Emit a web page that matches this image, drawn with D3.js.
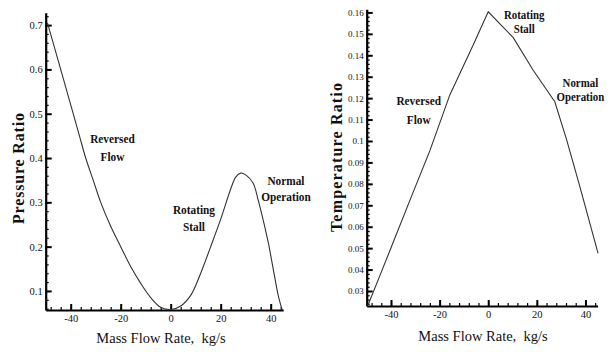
<!DOCTYPE html>
<html>
<head>
<meta charset="utf-8">
<script src="https://cdn.jsdelivr.net/npm/d3@7"></script>
<style>
  html, body { margin: 0; padding: 0; background: #fff; }
  svg { display: block; }
</style>
</head>
<body>
<svg id="chart" width="610" height="352"></svg>
<script>
// Compressor characteristic across the surge cycle: mass flow rate (kg/s)
const flowTicks = [-40, -20, 0, 20, 40];

// Pressure ratio vs mass flow rate
const pressureFlow  = [-49.3, -45, -42, -39, -36.5, -34, -31, -28, -24, -20, -16, -12, -8, -4, 0, 4, 8, 12, 16, 20, 24, 26, 28, 30, 33, 35, 37, 39, 41, 43, 44.6];
const pressureRatio = [0.705, 0.62, 0.56, 0.5, 0.45, 0.4, 0.35, 0.3, 0.246, 0.2, 0.155, 0.117, 0.085, 0.063, 0.058, 0.066, 0.09, 0.14, 0.2, 0.262, 0.33, 0.357, 0.366, 0.362, 0.343, 0.305, 0.26, 0.21, 0.15, 0.09, 0.057];
const pressureTicks = [0.1, 0.2, 0.3, 0.4, 0.5, 0.6, 0.7];

// Temperature ratio vs mass flow rate
const tempFlow  = [-49.6, -45, -40.4, -32.2, -24, -15.8, -6.2, 0, 10.3, 18.5, 27.4, 32.3, 37.7, 45.2];
const tempRatio = [0.023, 0.036, 0.049, 0.0724, 0.0955, 0.1215, 0.1448, 0.1603, 0.1482, 0.133, 0.1183, 0.1004, 0.0787, 0.0476];
const tempTicks = [0.03, 0.04, 0.05, 0.06, 0.07, 0.08, 0.09, 0.1, 0.11, 0.12, 0.13, 0.14, 0.15, 0.16];

// Flow regimes named on both plots
const regimes = [["Reversed", "Flow"], ["Rotating", "Stall"], ["Normal", "Operation"]];

const SERIF = '"Liberation Serif", "Times New Roman", Times, serif';
const svg = d3.select("#chart").attr("font-family", SERIF);

function panel(opt) {
  const g = svg.append("g");
  const x = d3.scaleLinear().domain(opt.xDomain).range(opt.xRange);
  const y = d3.scaleLinear().domain(opt.yDomain).range(opt.yRange);
  const x0 = opt.xRange[0], yb = opt.yRange[0];

  const style = (a, w) => a
    .attr("font-family", SERIF)
    .call(s => s.selectAll("line").attr("stroke-width", w));

  // minor ticks
  g.append("g").attr("transform", `translate(0,${yb})`)
    .call(d3.axisBottom(x).tickValues(opt.xMinor).tickSize(-3).tickSizeOuter(0).tickFormat(""))
    .call(a => a.select(".domain").remove())
    .call(a => style(a, 1.2));
  g.append("g").attr("transform", `translate(${x0},0)`)
    .call(d3.axisLeft(y).tickValues(opt.yMinor).tickSize(-3).tickSizeOuter(0).tickFormat(""))
    .call(a => a.select(".domain").remove())
    .call(a => style(a, 1.2));

  // major ticks + labels
  g.append("g").attr("transform", `translate(0,${yb})`)
    .call(d3.axisBottom(x).tickValues(flowTicks).tickSize(-6).tickSizeOuter(0).tickPadding(5)
      .tickFormat(d => d))
    .call(a => style(a, 2))
    .call(a => a.select(".domain").attr("stroke-width", 2.2))
    .call(a => a.selectAll("text").attr("font-size", 10.5).attr("fill", "#111"));
  g.append("g").attr("transform", `translate(${x0},0)`)
    .call(d3.axisLeft(y).tickValues(opt.yTicks).tickSize(-6).tickSizeOuter(0).tickPadding(3)
      .tickFormat(d => String(d)))
    .call(a => style(a, 2))
    .call(a => a.select(".domain").attr("stroke-width", 2.2))
    .call(a => a.selectAll("text").attr("font-size", opt.yFont).attr("fill", "#111"));

  // curve
  const pts = opt.xs.map((v, i) => [v, opt.ys[i]]);
  g.append("path").datum(pts)
    .attr("fill", "none").attr("stroke", "#333").attr("stroke-width", 1.1)
    .attr("d", d3.line().x(d => x(d[0])).y(d => y(d[1])).curve(opt.curve));

  // regime annotations (anchored in data coordinates)
  regimes.forEach((lines, k) => {
    const [nx, ny, gap, fs] = opt.notePos[k];
    const px = x(nx), py = y(ny);
    const t = g.append("text")
      .attr("transform", `translate(${px},${py}) scale(0.87,1)`)
      .attr("text-anchor", "middle").attr("font-size", fs).attr("font-weight", "bold")
      .attr("font-family", SERIF).attr("fill", "#111");
    lines.forEach((s, i) => t.append("tspan").attr("x", 0).attr("y", i * gap).text(s));
  });

  // axis titles
  g.append("text").attr("text-anchor", "middle").attr("font-size", 14.5)
    .attr("font-family", SERIF).attr("fill", "#111").style("white-space", "pre")
    .attr("x", opt.xTitlePos[0]).attr("y", opt.xTitlePos[1]).text("Mass Flow Rate,  kg/s");
  g.append("text").attr("text-anchor", "middle").attr("font-size", 16).attr("font-weight", "bold")
    .attr("font-family", SERIF).attr("fill", "#111")
    .attr("textLength", opt.yTitleLen).attr("lengthAdjust", "spacing")
    .attr("transform", `translate(${opt.yTitlePos[0]},${opt.yTitlePos[1]}) rotate(-90)`)
    .text(opt.yTitle);
}

const range = (a, b, s) => d3.range(Math.round((b - a) / s) + 1).map(i => +(a + i * s).toFixed(4));

panel({
  xDomain: [-50, 45], xRange: [45.7, 283.2],
  yDomain: [0.057, 0.728], yRange: [310, 12.7],
  xMinor: range(-48, 44, 4), yMinor: range(0.06, 0.72, 0.02),
  yTicks: pressureTicks, yFont: 10.5,
  xs: pressureFlow, ys: pressureRatio, curve: d3.curveCatmullRom,
  notePos: [[-23.3, 0.434, 18, 13], [9.3, 0.273, 17, 13], [46.1, 0.339, 16, 13]],
  xTitlePos: [161, 343], yTitlePos: [23.5, 168.5], yTitleLen: 111, yTitle: "Pressure Ratio"
});

panel({
  xDomain: [-50, 45], xRange: [366.7, 597.6],
  yDomain: [0.023, 0.1615], yRange: [306, 9.2],
  xMinor: range(-48, 44, 4), yMinor: range(0.024, 0.16, 0.002),
  yTicks: tempTicks, yFont: 9,
  xs: tempFlow, ys: tempRatio, curve: d3.curveLinear,
  notePos: [[-28.6, 0.1168, 19, 13], [14.8, 0.1567, 14, 12.5], [37.9, 0.1252, 14, 12.5]],
  xTitlePos: [483, 341], yTitlePos: [341.7, 157.5], yTitleLen: 149, yTitle: "Temperature Ratio"
});
</script>
</body>
</html>
